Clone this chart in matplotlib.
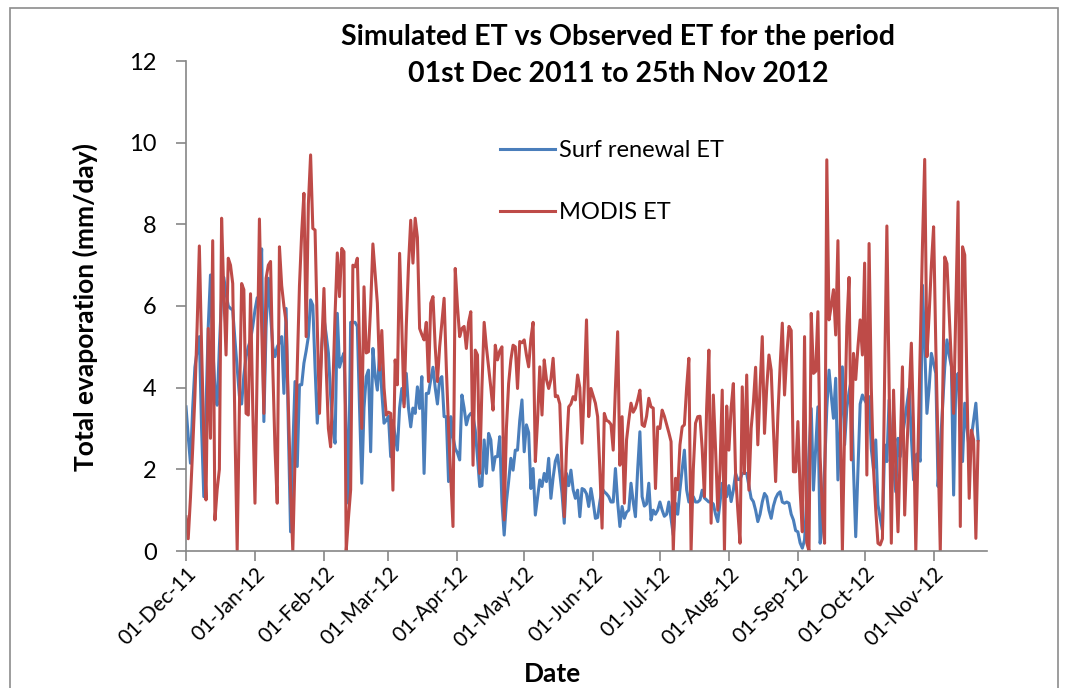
import matplotlib
matplotlib.use("Agg")
import matplotlib.pyplot as plt
import matplotlib.dates as mdates
from matplotlib.patches import Rectangle
import pandas as pd

# daily values, starting 01-Dec-2011
modis_et = [
    0.84, 0.3, 1.3, 2.5, 3.8, 5.5, 7.47, 5.0, 2.8, 1.25,
    5.45, 2.76, 7.6, 0.76, 1.5, 2.0, 8.15, 6.3, 4.8, 7.17,
    7.0, 6.55, 3.0, 0.02, 3.5, 6.55, 6.4, 3.37, 3.33, 6.3,
    3.5, 1.17, 4.5, 8.13, 5.5, 3.37, 6.68, 7.0, 7.09, 4.5,
    2.5, 1.17, 7.45, 6.5, 6.0, 5.6, 3.5, 1.5, 0.0, 2.3,
    4.5, 6.5, 7.8, 8.76, 5.25, 8.5, 9.7, 7.9, 7.86, 5.5,
    3.37, 5.0, 6.43, 4.5, 3.0, 2.55, 4.0, 5.8, 7.3, 6.23,
    7.41, 7.33, 0.0, 0.8, 1.5, 7.0, 6.96, 7.17, 5.0, 3.0,
    6.47, 4.85, 4.88, 6.0, 7.52, 6.8, 6.07, 4.43, 5.4, 4.0,
    3.33, 3.4, 3.37, 1.49, 4.68, 4.07, 7.29, 5.5, 3.53, 5.5,
    7.0, 8.1, 7.05, 8.15, 7.68, 5.45, 5.3, 5.17, 5.6, 4.15,
    6.07, 6.23, 5.0, 4.15, 5.0, 5.6, 6.19, 4.5, 3.0, 1.8,
    0.6, 6.92, 6.0, 5.25, 5.45, 5.5, 4.96, 5.6, 5.86, 2.1,
    4.92, 4.8, 1.9, 4.0, 5.6, 5.0, 4.5, 4.0, 3.45, 5.04,
    4.68, 4.9, 5.0, 0.76, 3.0, 4.1, 4.68, 5.04, 5.0, 3.98,
    5.13, 5.1, 5.17, 4.8, 4.51, 5.2, 5.6, 2.19, 3.2, 4.51,
    3.33, 4.68, 4.2, 3.98, 4.2, 4.72, 3.78, 3.8, 3.6, 2.0,
    0.84, 2.5, 3.53, 3.6, 3.78, 3.7, 4.31, 4.0, 2.64, 4.0,
    5.66, 3.29, 3.98, 3.8, 3.62, 3.29, 2.0, 0.56, 3.37, 3.2,
    3.17, 3.1, 2.47, 4.0, 5.37, 2.1, 3.29, 1.17, 2.72, 3.2,
    3.62, 3.4, 3.5, 3.7, 3.94, 3.09, 3.05, 3.3, 3.74, 3.53,
    3.5, 1.53, 3.04, 3.0, 3.45, 3.3, 3.1, 2.9, 2.68, 0.0,
    1.78, 1.5, 2.6, 3.04, 3.09, 4.0, 4.72, 0.0, 2.0, 3.13,
    3.29, 3.3, 2.5, 1.33, 3.5, 4.92, 0.68, 3.82, 2.5, 1.0,
    2.0, 3.94, 0.0, 3.55, 2.47, 3.5, 4.1, 1.9, 1.0, 0.19,
    4.02, 1.9, 4.31, 1.49, 3.0, 3.62, 4.5, 2.6, 4.0, 5.25,
    2.88, 4.0, 4.8, 4.43, 3.0, 1.7, 3.3, 4.5, 5.58, 3.82,
    4.8, 5.5, 5.4, 1.94, 1.94, 3.17, 1.5, 0.47, 5.25, 0.2,
    0.0, 5.82, 4.35, 4.4, 5.86, 2.31, 1.0, 0.19, 9.58, 5.66,
    6.0, 6.4, 5.29, 7.6, 3.5, 0.0, 3.0, 5.5, 6.7, 2.23,
    4.84, 4.2, 5.0, 5.66, 4.8, 7.05, 1.86, 7.53, 4.0, 2.0,
    1.0, 0.19, 0.15, 0.3, 4.3, 7.96, 4.0, 0.19, 3.94, 2.0,
    0.47, 2.5, 4.51, 0.88, 2.5, 3.8, 5.09, 3.0, 0.0, 2.5,
    5.0, 7.5, 9.59, 4.76, 5.8, 7.0, 7.94, 5.0, 2.5, 0.0,
    3.5, 7.2, 7.04, 5.8, 4.5, 3.37, 6.0, 8.55, 0.6, 7.45,
    7.25, 4.0, 1.29, 2.96, 2.72, 0.31, 2.68,
]

surf_et = [
    3.53, 2.8, 2.15, 3.5, 4.5, 4.9, 5.25, 3.0, 1.33, 3.5,
    5.5, 6.76, 5.0, 4.0, 3.57, 5.0, 6.2, 6.7, 6.3, 6.0,
    5.94, 5.9, 5.17, 4.5, 3.8, 3.6, 4.3, 4.76, 5.0, 5.17,
    5.5, 5.9, 6.2, 6.23, 7.4, 3.17, 5.5, 6.68, 5.8, 5.0,
    4.76, 5.0, 5.1, 5.25, 3.86, 5.94, 3.0, 0.47, 2.5, 4.15,
    2.07, 4.07, 4.07, 4.6, 4.9, 5.25, 6.15, 6.02, 4.5, 3.13,
    4.0, 5.0, 5.7, 5.3, 4.85, 3.8, 3.0, 2.64, 5.82, 4.5,
    4.7, 4.85, 3.0, 1.17, 5.6, 5.6, 5.6, 5.5, 3.5, 1.66,
    3.5, 4.27, 4.43, 2.43, 4.96, 4.3, 3.94, 4.84, 3.9, 3.13,
    3.2, 3.3, 2.31, 3.2, 2.8, 2.47, 3.5, 3.98, 3.6, 4.35,
    3.5, 3.04, 3.5, 3.37, 4.02, 3.49, 4.27, 1.9, 3.86, 3.86,
    4.2, 4.5, 4.0, 3.6, 4.2, 4.27, 3.29, 3.29, 1.7, 3.29,
    2.8, 2.51, 2.4, 2.23, 3.82, 3.5, 3.09, 3.3, 3.37, 3.3,
    2.96, 2.3, 1.58, 1.6, 2.72, 1.9, 2.88, 2.72, 1.98, 2.31,
    2.31, 2.8, 1.2, 0.39, 1.2, 1.7, 2.27, 1.98, 2.47, 2.47,
    3.2, 3.7, 2.43, 3.09, 2.9, 1.53, 2.02, 0.88, 1.3, 1.74,
    1.58, 1.9, 1.7, 2.27, 1.29, 1.8, 2.2, 2.35, 1.9, 1.41,
    0.68, 1.9, 1.6, 1.98, 1.5, 1.29, 1.49, 0.84, 1.53, 1.5,
    1.4, 1.09, 1.53, 1.2, 0.8, 0.82, 1.2, 1.53, 1.45, 1.4,
    1.33, 1.2, 1.2, 2.02, 1.2, 0.6, 1.09, 0.8, 0.95, 1.0,
    1.66, 1.2, 0.84, 2.0, 2.92, 1.33, 1.1, 1.15, 1.66, 0.76,
    1.0, 0.9, 1.0, 1.2, 1.0, 0.85, 0.9, 1.2, 0.8, 0.39,
    1.17, 0.9, 1.5, 2.0, 2.47, 1.5, 1.2, 1.3, 1.33, 1.2,
    1.2, 1.25, 1.49, 1.3, 1.25, 1.2, 1.2, 1.15, 0.9, 0.72,
    1.2, 1.66, 1.5, 1.33, 1.6, 1.21, 1.49, 1.9, 1.75, 1.75,
    1.9, 1.9, 1.9, 1.6, 1.29, 1.21, 1.0, 0.72, 0.9, 1.2,
    1.41, 1.33, 1.0, 0.8, 1.1, 1.29, 1.4, 1.45, 1.2, 1.17,
    1.2, 1.17, 0.9, 0.76, 0.5, 0.47, 0.2, 0.07, 0.27, 1.3,
    2.4, 3.49, 1.49, 2.5, 3.53, 0.19, 0.68, 2.0, 3.5, 4.43,
    3.8, 3.25, 4.23, 1.74, 3.0, 4.51, 2.6, 3.5, 3.9, 4.19,
    2.0, 0.35, 2.0, 3.6, 3.82, 3.7, 3.6, 3.78, 2.5, 2.0,
    2.72, 1.13, 0.8, 0.51, 2.6, 2.19, 3.7, 2.5, 2.0, 1.45,
    2.76, 2.31, 2.8, 3.2, 3.6, 3.98, 2.8, 1.74, 2.35, 2.39,
    2.2, 6.51, 5.0, 3.37, 4.0, 4.84, 4.6, 4.35, 1.58, 2.5,
    3.5, 4.5, 5.17, 4.8, 4.51, 1.37, 4.19, 4.35, 3.0, 2.19,
    3.62, 3.0, 2.5, 2.8, 3.2, 3.62, 2.72,
]

dates = pd.date_range("2011-12-01", periods=len(modis_et), freq="D")
y_ticks = [0, 2, 4, 6, 8, 10, 12]

plt.rcParams["font.family"] = ["Lato", "DejaVu Sans"]

fig = plt.figure(figsize=(10.66, 6.88), dpi=100)
ax = fig.add_axes([186 / 1066, 1 - 551 / 688, 801 / 1066, 490 / 688])

# outer chart frame like the Excel chart area
fig.patches.append(Rectangle((10 / 1066, -0.1), 1048 / 1066, 1.1 - 8 / 688,
                             transform=fig.transFigure, fill=False,
                             edgecolor="#8c8c8c", linewidth=1.2))

ax.plot(dates, surf_et, color="#4a7ebb", linewidth=2.2, label="Surf renewal ET")
ax.plot(dates, modis_et, color="#be4b48", linewidth=2.2, label="MODIS ET")

ax.set_xlim(pd.Timestamp("2011-12-01"), pd.Timestamp("2012-11-25"))
ax.set_ylim(0, 12)
ax.set_yticks(y_ticks)
ax.xaxis.set_major_locator(mdates.MonthLocator(bymonthday=1))
ax.xaxis.set_major_formatter(mdates.DateFormatter("%d-%b-%y"))

for side in ["top", "right"]:
    ax.spines[side].set_visible(False)
for side in ["left", "bottom"]:
    ax.spines[side].set_color("#868686")
    ax.spines[side].set_linewidth(1.2)
ax.tick_params(axis="both", colors="#868686", labelcolor="black", length=7, width=1.2)
ax.tick_params(axis="y", labelsize=17, pad=14)
ax.tick_params(axis="x", labelsize=15, pad=2)
for lbl in ax.get_xticklabels():
    lbl.set_rotation(45)
    lbl.set_ha("right")
    lbl.set_rotation_mode("anchor")

fig.text(85 / 1066, 1 - 307 / 688, "Total evaporation (mm/day)", rotation=90,
         fontsize=19, fontweight="bold", ha="center", va="center")
fig.text(552 / 1066, 1 - 674 / 688, "Date", fontsize=19, fontweight="bold",
         ha="center", va="center")

fig.text(618 / 1066, 1 - 37 / 688, "Simulated ET vs Observed ET for the period",
         fontsize=20.5, fontweight="bold", ha="center", va="center")
fig.text(618 / 1066, 1 - 74 / 688, "01st Dec 2011 to 25th Nov 2012",
         fontsize=20.5, fontweight="bold", ha="center", va="center")

ax.legend(loc="upper left", bbox_to_anchor=(500 / 1066, 1 - 140 / 688),
          bbox_transform=fig.transFigure, frameon=False, fontsize=17,
          handlelength=2.35, handletextpad=0.15, labelspacing=1.75,
          borderpad=0, borderaxespad=0)

fig.savefig("out.png", dpi=100)
